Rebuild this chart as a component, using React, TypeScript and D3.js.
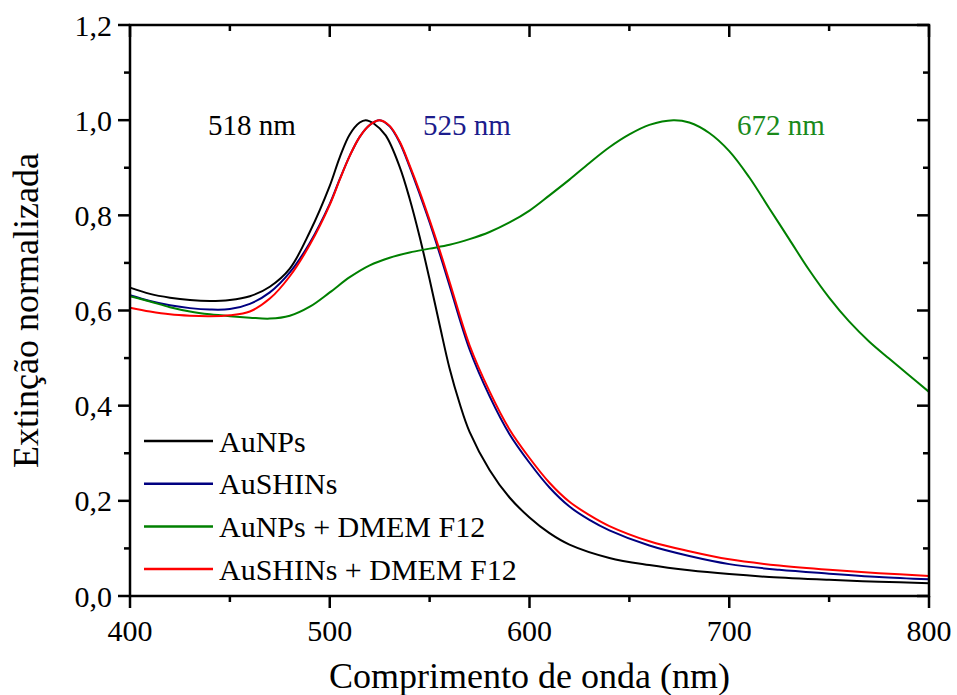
import React from 'react'
import { scaleLinear, line, curveCatmullRom, range } from 'd3'

// comprimento de onda (nm) e extinção normalizada
const auNPsWl = [400, 410, 420, 430, 440, 450, 460, 470, 480, 490, 500, 505, 510, 515, 518, 522, 528, 535, 540, 545, 550, 555, 560, 565, 570, 580, 590, 600, 610, 620, 640, 660, 680, 700, 720, 750, 775, 800]
const auNPsExt = [0.648, 0.635, 0.627, 0.622, 0.62, 0.622, 0.63, 0.65, 0.688, 0.765, 0.862, 0.922, 0.97, 0.995, 1.0, 0.993, 0.968, 0.902, 0.835, 0.755, 0.665, 0.57, 0.478, 0.405, 0.345, 0.265, 0.207, 0.165, 0.132, 0.108, 0.08, 0.065, 0.054, 0.046, 0.04, 0.034, 0.03, 0.027]

const shinWl = [400, 410, 420, 430, 440, 450, 460, 470, 480, 490, 500, 505, 510, 515, 520, 525, 530, 535, 540, 545, 550, 555, 560, 570, 580, 590, 600, 610, 620, 630, 640, 660, 680, 700, 725, 750, 775, 800]
const auSHINsExt = [0.632, 0.62, 0.611, 0.605, 0.602, 0.603, 0.614, 0.638, 0.68, 0.742, 0.824, 0.876, 0.925, 0.965, 0.99, 1.0, 0.987, 0.953, 0.902, 0.845, 0.785, 0.72, 0.652, 0.518, 0.42, 0.34, 0.28, 0.228, 0.188, 0.16, 0.138, 0.106, 0.084, 0.067, 0.055, 0.047, 0.04, 0.035]
const auSHINsDmemExt = [0.606, 0.598, 0.592, 0.589, 0.588, 0.59, 0.598, 0.625, 0.672, 0.738, 0.822, 0.875, 0.925, 0.965, 0.99, 1.0, 0.988, 0.955, 0.905, 0.85, 0.79, 0.727, 0.66, 0.527, 0.43, 0.35, 0.29, 0.238, 0.198, 0.17, 0.147, 0.115, 0.094, 0.077, 0.064, 0.055, 0.048, 0.042]

const dmemWl = [400, 410, 420, 430, 440, 450, 460, 470, 480, 490, 500, 510, 520, 530, 540, 550, 560, 570, 580, 590, 600, 610, 620, 630, 640, 650, 660, 672, 680, 690, 700, 710, 720, 730, 740, 750, 760, 770, 780, 790, 800]
const auNPsDmemExt = [0.63, 0.619, 0.607, 0.598, 0.592, 0.588, 0.585, 0.583, 0.589, 0.608, 0.638, 0.67, 0.695, 0.711, 0.722, 0.73, 0.738, 0.75, 0.765, 0.785, 0.81, 0.842, 0.875, 0.91, 0.943, 0.97, 0.99, 1.0, 0.995, 0.973, 0.935, 0.88, 0.815, 0.75, 0.685, 0.627, 0.577, 0.535, 0.499, 0.464, 0.429]

const xTicks = [400, 500, 600, 700, 800]
const yTicks = [0, 0.2, 0.4, 0.6, 0.8, 1.0, 1.2]

const series = [
  { name: 'AuNPs', wl: auNPsWl, ext: auNPsExt, color: '#000000' },
  { name: 'AuSHINs', wl: shinWl, ext: auSHINsExt, color: '#000080' },
  { name: 'AuNPs + DMEM F12', wl: dmemWl, ext: auNPsDmemExt, color: '#008000' },
  { name: 'AuSHINs + DMEM F12', wl: shinWl, ext: auSHINsDmemExt, color: '#ff0000' },
]

const peaks = [
  { label: '518 nm', color: '#000000', x: 208 },
  { label: '525 nm', color: '#1c1c8c', x: 423 },
  { label: '672 nm', color: '#1a8a1a', x: 737 },
]

const W = 957
const H = 695
const left = 130
const right = 929
const top = 25
const bottom = 596
const font = '"Liberation Serif", "Times New Roman", serif'

export default function App() {
  const x = scaleLinear().domain([400, 800]).range([left, right])
  const y = scaleLinear().domain([0, 1.2]).range([bottom, top])

  const path = (wl: number[], ext: number[]) =>
    line<number>()
      .x((_, i) => x(wl[i]))
      .y(d => y(d))
      .curve(curveCatmullRom.alpha(0.5))(ext) || ''

  const minorX = range(450, 800, 100)
  const minorY = range(0.1, 1.2, 0.2)

  return (
    <svg width={W} height={H} style={{ position: 'absolute', left: 0, top: 0, background: '#fff' }} fontFamily={font}>
      {series.map(s => (
        <path key={s.name} d={path(s.wl, s.ext)} fill="none" stroke={s.color} strokeWidth={2} />
      ))}

      {/* moldura */}
      <rect x={left} y={top} width={right - left} height={bottom - top} fill="none" stroke="#000" strokeWidth={2.5} />

      {/* eixo x: baixo para fora, topo para dentro */}
      {xTicks.map(t => (
        <g key={'xt' + t}>
          <line x1={x(t)} x2={x(t)} y1={bottom} y2={bottom + 12} stroke="#000" strokeWidth={2.5} />
          <line x1={x(t)} x2={x(t)} y1={top} y2={top + 12} stroke="#000" strokeWidth={2.5} />
          <text x={x(t)} y={641} fontSize={30} textAnchor="middle">{t}</text>
        </g>
      ))}
      {minorX.map(t => (
        <g key={'xm' + t}>
          <line x1={x(t)} x2={x(t)} y1={bottom} y2={bottom + 6} stroke="#000" strokeWidth={2.5} />
          <line x1={x(t)} x2={x(t)} y1={top} y2={top + 6} stroke="#000" strokeWidth={2.5} />
        </g>
      ))}

      {/* eixo y: esquerda para fora, direita para dentro */}
      {yTicks.map(t => (
        <g key={'yt' + t}>
          <line x1={left - 12} x2={left} y1={y(t)} y2={y(t)} stroke="#000" strokeWidth={2.5} />
          <line x1={right - 12} x2={right} y1={y(t)} y2={y(t)} stroke="#000" strokeWidth={2.5} />
          <text x={112} y={y(t)} dy="0.35em" fontSize={30} textAnchor="end">{t.toFixed(1).replace('.', ',')}</text>
        </g>
      ))}
      {minorY.map(t => (
        <g key={'ym' + t}>
          <line x1={left - 6} x2={left} y1={y(t)} y2={y(t)} stroke="#000" strokeWidth={2.5} />
          <line x1={right - 6} x2={right} y1={y(t)} y2={y(t)} stroke="#000" strokeWidth={2.5} />
        </g>
      ))}

      <text x={(left + right) / 2} y={688} fontSize={36} textAnchor="middle">Comprimento de onda (nm)</text>
      <text transform={`translate(38, ${(top + bottom) / 2}) rotate(-90)`} fontSize={36} textAnchor="middle">Extinção normalizada</text>

      {peaks.map(p => (
        <text key={p.label} x={p.x} y={135} fontSize={29} fill={p.color}>{p.label}</text>
      ))}

      {/* legenda */}
      {series.map((s, i) => (
        <g key={'leg' + s.name} transform={`translate(144, ${441 + i * 42.7})`}>
          <line x1={0} x2={69} y1={0} y2={0} stroke={s.color} strokeWidth={2.5} />
          <text x={75} y={0} dy="0.35em" fontSize={30}>{s.name}</text>
        </g>
      ))}
    </svg>
  )
}
